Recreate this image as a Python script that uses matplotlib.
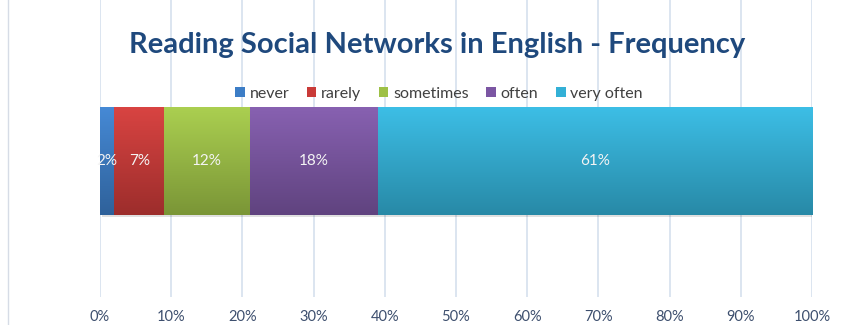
import numpy as np
import matplotlib
matplotlib.use("Agg")
import matplotlib.pyplot as plt
from matplotlib.patches import Patch
from matplotlib.lines import Line2D
from matplotlib.colors import to_rgb

plt.rcParams['font.family'] = ['Lato', 'DejaVu Sans']

categories = ["never", "rarely", "sometimes", "often", "very often"]
shares = [2, 7, 12, 18, 61]
colors = ["#3c7dc6", "#c93a38", "#9dc046", "#7b56a3", "#33b0d6"]
tick_values = [0, 10, 20, 30, 40, 50, 60, 70, 80, 90, 100]
tick_labels = [f"{v}%" for v in tick_values]
title = "Reading Social Networks in English - Frequency"

fig = plt.figure(figsize=(8.52, 3.25), dpi=100)
ax = fig.add_axes([100 / 852, 1 - 297 / 325, 712 / 852, 297 / 325])

bar_y = 0.458
bar_h = 0.364

# soft drop shadow under the stacked bar
ax.barh(bar_y - 0.006, sum(shares), height=bar_h, left=0.3,
        color="#000000", alpha=0.12, zorder=2, linewidth=0)

left = 0
for cat, val, col in zip(categories, shares, colors):
    bars = ax.barh(bar_y, val, height=bar_h, left=left, color=col,
                   linewidth=0, zorder=3)
    rect = bars[0]
    base = np.array(to_rgb(col))
    top = np.clip(base * 1.04 + 0.03, 0, 1)
    bottom = base * 0.78
    t = np.linspace(0, 1, 64)[:, None]
    grad = (top[None, :] * (1 - t) + bottom[None, :] * t)[:, None, :]
    im = ax.imshow(grad, extent=(left, left + val, bar_y - bar_h / 2, bar_y + bar_h / 2),
                   origin="upper", aspect="auto", zorder=4, interpolation="bilinear")
    im.set_clip_path(rect)
    ax.text(left + val / 2, bar_y, f"{val}%", ha="center", va="center",
            color="#f4f4f4", fontsize=11, zorder=5)
    left += val

ax.set_xlim(0, 100)
ax.set_ylim(0, 1)
ax.set_xticks(tick_values)
ax.set_xticklabels(tick_labels, color="#3d4f6e", fontsize=10.5)
ax.set_yticks([])
ax.tick_params(axis="x", length=0, pad=9.5)
ax.grid(axis="x", color="#d6e0ee", linewidth=1.2, zorder=0)
ax.set_axisbelow(True)
for s in ax.spines.values():
    s.set_visible(False)

fig.text(437 / 852, 1 - 45 / 325, title, ha="center", va="center",
         fontsize=21, fontweight="bold", color="#1f497d")

handles = [Patch(facecolor=c, edgecolor="none") for c in colors]
fig.legend(handles, categories, loc="center", bbox_to_anchor=(439 / 852, 1 - 94 / 325),
           ncol=5, frameon=False, fontsize=11.5, handlelength=0.6, handleheight=0.6,
           handletextpad=0.3, columnspacing=1.1, labelcolor="#404040")

fig.add_artist(Line2D([8 / 852, 8 / 852], [0, 1], transform=fig.transFigure,
                      color="#d6dce6", linewidth=1))

fig.savefig("out.png", dpi=100)
